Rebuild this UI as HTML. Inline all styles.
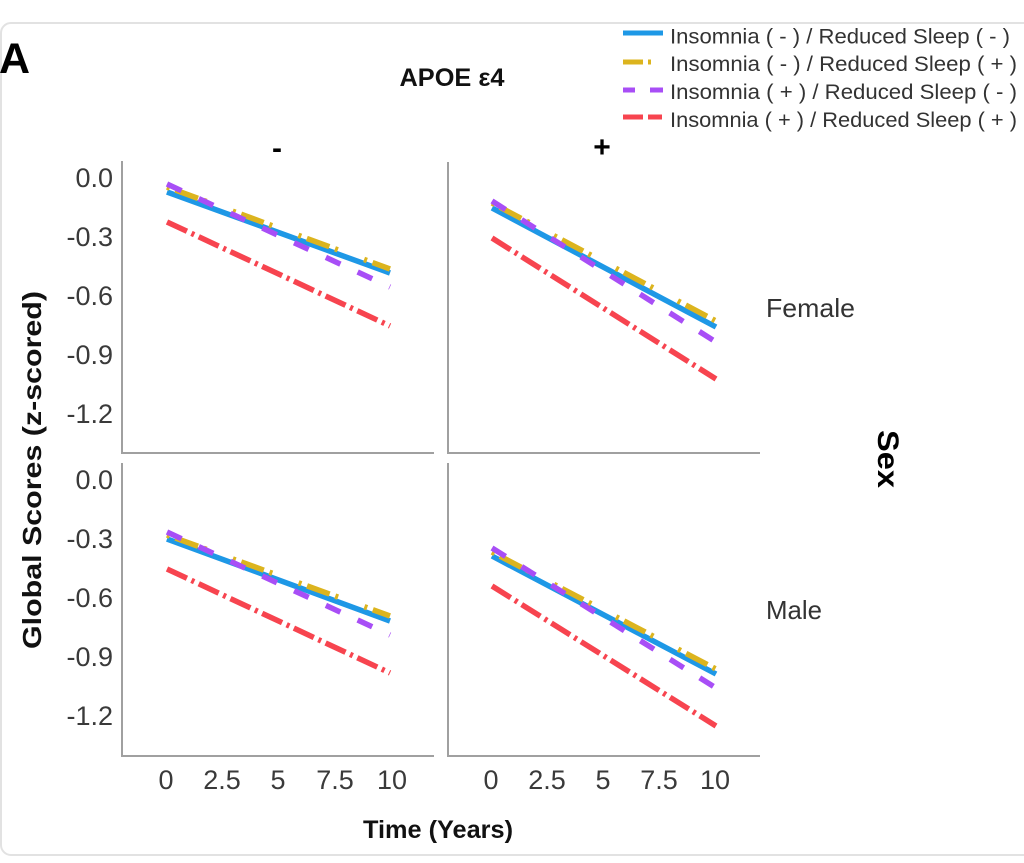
<!DOCTYPE html>
<html>
<head>
<meta charset="utf-8">
<style>
  html, body { margin:0; padding:0; background:#ffffff; }
  body { width:1024px; height:863px; overflow:hidden; }
  svg { display:block; }
  text { font-family:"Liberation Sans", Arial, sans-serif; }
</style>
</head>
<body>
<svg width="1024" height="863" viewBox="0 0 1024 863" xmlns="http://www.w3.org/2000/svg">
  <rect x="0" y="0" width="1024" height="863" fill="#ffffff"/>
  <!-- card border -->
  <rect x="1" y="23" width="1100" height="832" rx="10" ry="10" fill="none" stroke="#e2e2e2" stroke-width="2"/>

  <!-- Panel label -->
  <text x="-1" y="73" font-size="43" font-weight="bold" fill="#000">A</text>
  <!-- APOE title -->
  <text x="452" y="86" font-size="25" font-weight="bold" fill="#111" text-anchor="middle" textLength="105" lengthAdjust="spacingAndGlyphs">APOE ε4</text>
  <!-- column headers -->
  <text x="277" y="158" font-size="30" font-weight="bold" fill="#000" text-anchor="middle">-</text>
  <text x="602" y="157" font-size="30" font-weight="bold" fill="#000" text-anchor="middle">+</text>

  <!-- Legend -->
  <g stroke-width="5" fill="none">
    <line x1="623" y1="33" x2="663" y2="33" stroke="#1e98e6"/>
    <line x1="623" y1="62" x2="652" y2="62" stroke="#dcb41e" stroke-dasharray="20 5 3 100"/>
    <line x1="623" y1="90" x2="663" y2="90" stroke="#a84ef6" stroke-dasharray="12 15 13"/>
    <line x1="623" y1="117" x2="663" y2="117" stroke="#f7444f" stroke-dasharray="20 5 14"/>
  </g>
  <g font-size="21" fill="#333">
    <text x="670" y="43.5" textLength="340" lengthAdjust="spacingAndGlyphs">Insomnia ( - ) / Reduced Sleep ( - )</text>
    <text x="670" y="71" textLength="347" lengthAdjust="spacingAndGlyphs">Insomnia ( - ) / Reduced Sleep ( + )</text>
    <text x="670" y="99" textLength="347" lengthAdjust="spacingAndGlyphs">Insomnia ( + ) / Reduced Sleep ( - )</text>
    <text x="670" y="127" textLength="347" lengthAdjust="spacingAndGlyphs">Insomnia ( + ) / Reduced Sleep ( + )</text>
  </g>

  <!-- Axes -->
  <g stroke="#a0a0a0" stroke-width="2" fill="none">
    <polyline points="122,161 122,453 434,453"/>
    <polyline points="448,162 448,453 760,453"/>
    <polyline points="122,463 122,756 434,756"/>
    <polyline points="448,463 448,756 760,756"/>
  </g>

  <!-- Y tick labels -->
  <g font-size="27" fill="#3a3a3a" text-anchor="end">
    <text x="113" y="187">0.0</text>
    <text x="113" y="246">-0.3</text>
    <text x="113" y="305">-0.6</text>
    <text x="113" y="364">-0.9</text>
    <text x="113" y="423">-1.2</text>
    <text x="113" y="489">0.0</text>
    <text x="113" y="548">-0.3</text>
    <text x="113" y="607">-0.6</text>
    <text x="113" y="666">-0.9</text>
    <text x="113" y="725">-1.2</text>
  </g>

  <!-- X tick labels -->
  <g font-size="27" fill="#3a3a3a" text-anchor="middle">
    <text x="166" y="789">0</text>
    <text x="222" y="789">2.5</text>
    <text x="278" y="789">5</text>
    <text x="335" y="789">7.5</text>
    <text x="392" y="789">10</text>
    <text x="491" y="789">0</text>
    <text x="547" y="789">2.5</text>
    <text x="603" y="789">5</text>
    <text x="659" y="789">7.5</text>
    <text x="715" y="789">10</text>
  </g>

  <!-- Axis titles -->
  <text x="438" y="838" font-size="25" font-weight="bold" fill="#111" text-anchor="middle" textLength="150" lengthAdjust="spacingAndGlyphs">Time (Years)</text>
  <text transform="translate(41,470) rotate(-90)" x="0" y="0" font-size="26" font-weight="bold" fill="#111" text-anchor="middle" textLength="358" lengthAdjust="spacingAndGlyphs">Global Scores (z-scored)</text>

  <!-- Row labels -->
  <text x="766" y="317" font-size="26" fill="#333" textLength="89" lengthAdjust="spacingAndGlyphs">Female</text>
  <text x="766" y="619" font-size="26" fill="#333" textLength="56" lengthAdjust="spacingAndGlyphs">Male</text>
  <text transform="translate(878,459) rotate(90)" x="0" y="0" font-size="30" font-weight="bold" fill="#000" text-anchor="middle" textLength="58" lengthAdjust="spacingAndGlyphs">Sex</text>

  <!-- Data lines -->
  <g stroke-width="5.5" fill="none" stroke-linecap="butt">
    <!-- top-left -->
    <line x1="167" y1="192" x2="390" y2="273" stroke="#1e98e6"/>
    <line x1="167" y1="187" x2="390" y2="269" stroke="#dcb41e" stroke-dasharray="3 6 24 6 3 28"/>
    <line x1="167" y1="184" x2="390" y2="287" stroke="#a84ef6" stroke-dasharray="16 19"/>
    <line x1="167" y1="222" x2="390" y2="326" stroke="#f7444f" stroke-dasharray="22 5 3 5"/>
    <!-- top-right -->
    <line x1="492" y1="208" x2="716" y2="327" stroke="#1e98e6"/>
    <line x1="492" y1="203" x2="716" y2="321" stroke="#dcb41e" stroke-dasharray="3 6 24 6 3 28"/>
    <line x1="492" y1="201" x2="716" y2="342" stroke="#a84ef6" stroke-dasharray="16 19"/>
    <line x1="492" y1="238" x2="716" y2="379" stroke="#f7444f" stroke-dasharray="22 5 3 5"/>
    <!-- bottom-left -->
    <line x1="167" y1="539" x2="390" y2="621" stroke="#1e98e6"/>
    <line x1="167" y1="535" x2="390" y2="616" stroke="#dcb41e" stroke-dasharray="3 6 24 6 3 28"/>
    <line x1="167" y1="532" x2="390" y2="635" stroke="#a84ef6" stroke-dasharray="16 19"/>
    <line x1="167" y1="569" x2="390" y2="673" stroke="#f7444f" stroke-dasharray="22 5 3 5"/>
    <!-- bottom-right -->
    <line x1="492" y1="556" x2="716" y2="674" stroke="#1e98e6"/>
    <line x1="492" y1="552" x2="716" y2="669" stroke="#dcb41e" stroke-dasharray="3 6 24 6 3 28"/>
    <line x1="492" y1="548" x2="716" y2="688" stroke="#a84ef6" stroke-dasharray="16 19"/>
    <line x1="492" y1="586" x2="716" y2="726" stroke="#f7444f" stroke-dasharray="22 5 3 5"/>
  </g>
</svg>
</body>
</html>
